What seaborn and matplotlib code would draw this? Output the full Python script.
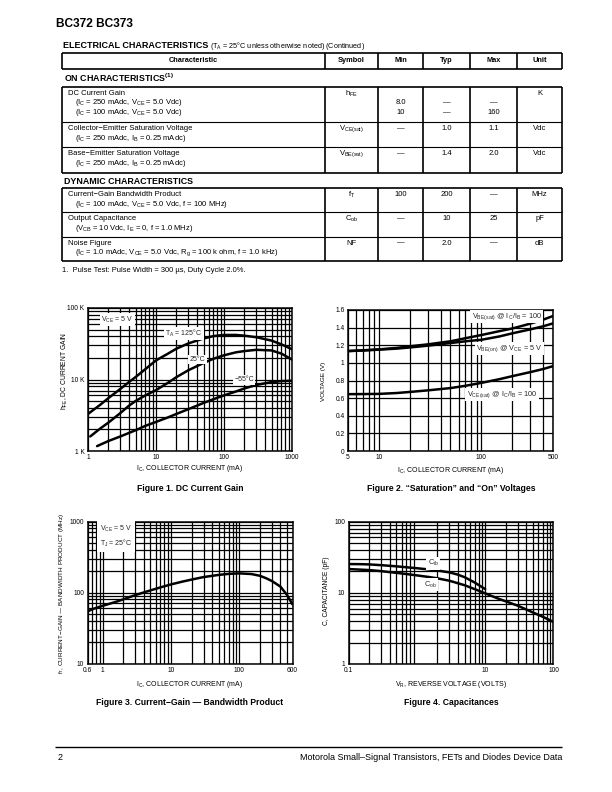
import matplotlib
matplotlib.use("Agg")
import numpy as np
import pandas as pd
import matplotlib.pyplot as plt
import seaborn as sns
from matplotlib.ticker import FixedLocator, NullFormatter, LogLocator, NullLocator

# ---------------- data: Figure 1 (DC current gain, in K) ----------------
f1_ic_125 = [1, 1.5, 2, 3, 4, 5, 7, 10, 15, 20, 30, 50, 70, 100, 150, 200, 300, 500, 700, 1000]
f1_hfe_125 = [3.3, 4.4, 5.5, 7.4, 9.2, 10.8, 14, 18.5, 23, 27, 32, 37.5, 40.5, 42, 42, 41, 39, 35, 31, 26.5]
f1_ic_25 = [1.08, 1.5, 2, 3, 4, 5, 7, 10, 15, 20, 30, 50, 70, 100, 150, 200, 300, 500, 700, 1000]
f1_hfe_25 = [1.6, 2.05, 2.5, 3.4, 4.3, 5.0, 6.0, 7.1, 9.0, 10.8, 13.5, 17, 19.5, 21.8, 24, 25, 26, 25.5, 23, 19]
f1_ic_m55 = [1.36, 2, 3, 5, 7, 10, 15, 20, 30, 50, 70, 100, 150, 200, 300, 500, 700, 1000]
f1_hfe_m55 = [1.17, 1.38, 1.6, 1.95, 2.25, 2.55, 2.95, 3.3, 3.85, 4.7, 5.3, 6.0, 6.8, 7.5, 8.4, 9.2, 9.5, 9.6]
f1_xticks = [1, 10, 100, 1000]
f1_xlabels = ["1", "10", "100", "1000"]
f1_yticks = [1, 10, 100]
f1_ylabels = ["1 K", "10 K", "100 K"]

# ---------------- data: Figure 2 (voltages) ----------------
f2_ic = [5, 7, 10, 15, 20, 30, 50, 70, 100, 150, 200, 300, 400, 500]
f2_vbe_sat = [1.134, 1.143, 1.153, 1.17, 1.188, 1.21, 1.245, 1.28, 1.316, 1.36, 1.39, 1.445, 1.49, 1.532]
f2_vbe_on = [1.134, 1.14, 1.15, 1.162, 1.175, 1.195, 1.225, 1.245, 1.262, 1.3, 1.335, 1.38, 1.415, 1.448]
f2_vce_sat = [0.645, 0.646, 0.648, 0.658, 0.67, 0.688, 0.714, 0.74, 0.773, 0.815, 0.849, 0.895, 0.93, 0.963]
f2_xticks = [5, 10, 100, 500]
f2_xlabels = ["5", "10", "100", "500"]
f2_yticks = [0, 0.2, 0.4, 0.6, 0.8, 1.0, 1.2, 1.4, 1.6]
f2_ylabels = ["0", "0.2", "0.4", "0.6", "0.8", "1", "1.2", "1.4", "1.6"]

# ---------------- data: Figure 3 (fT) ----------------
f3_ic = [0.6, 0.7, 1, 1.5, 2, 3, 5, 7, 10, 15, 20, 30, 50, 70, 100, 150, 200, 250, 300, 400, 500, 600]
f3_ft = [54, 58, 65, 73, 80, 92, 107, 118, 130, 143, 152, 165, 177, 183, 186, 182, 172, 158, 145, 121, 92, 68]
f3_xticks = [0.6, 1, 10, 100, 600]
f3_xlabels = ["0.6", "1", "10", "100", "600"]
f3_yticks = [10, 100, 1000]
f3_ylabels = ["10", "100", "1000"]

# ---------------- data: Figure 4 (capacitances) ----------------
f4_v_ib = [0.1, 0.15, 0.2, 0.3, 0.5, 0.7, 1, 1.5, 2, 3, 4, 5, 7, 10]
f4_cib = [25.4, 25.3, 25.1, 24.5, 23.6, 22.9, 22.2, 21.3, 20.6, 19.4, 18.0, 16.6, 14.0, 11.3]
f4_v_ob = [0.1, 0.15, 0.2, 0.3, 0.5, 0.7, 1, 1.5, 2, 3, 5, 7, 10, 15, 20, 30, 50, 70, 100]
f4_cob = [21.6, 21.2, 20.9, 20.2, 19.1, 18.4, 17.6, 16.7, 16, 14.8, 12.8, 11.3, 9.85, 8.4, 7.6, 6.6, 5.3, 4.6, 3.9]
f4_xticks = [0.1, 10, 100]
f4_xlabels = ["0.1", "10", "100"]
f4_yticks = [1, 10, 100]
f4_ylabels = ["1", "10", "100"]

# ---------------- data: table ----------------
tbl_cols = ["Characteristic", "Symbol", "Min", "Typ", "Max", "Unit"]
on_char = [["DC Current Gain", "(I$_C$ = 250 mAdc, V$_{CE}$ = 5.0 Vdc)", "(I$_C$ = 100 mAdc, V$_{CE}$ = 5.0 Vdc)"],
           ["Collector−Emitter Saturation Voltage", "(I$_C$ = 250 mAdc, I$_B$ = 0.25 mAdc)"],
           ["Base−Emitter Saturation Voltage", "(I$_C$ = 250 mAdc, I$_B$ = 0.25 mAdc)"]]
on_sym = ["h$_{FE}$", "V$_{CE(sat)}$", "V$_{BE(sat)}$"]
on_min = [["", "8.0", "10"], ["—"], ["—"]]
on_typ = [["", "—", "—"], ["1.0"], ["1.4"]]
on_max = [["", "—", "160"], ["1.1"], ["2.0"]]
on_unit = ["K", "Vdc", "Vdc"]
dyn_char = [["Current−Gain Bandwidth Product", "(I$_C$ = 100 mAdc, V$_{CE}$ = 5.0 Vdc, f = 100 MHz)"],
            ["Output Capacitance", "(V$_{CB}$ = 10 Vdc, I$_E$ = 0, f = 1.0 MHz)"],
            ["Noise Figure", "(I$_C$ = 1.0 mAdc, V$_{CE}$ = 5.0 Vdc, R$_g$ = 100 k ohm, f = 1.0 kHz)"]]
dyn_sym = ["f$_T$", "C$_{ob}$", "NF"]
dyn_min = [["100"], ["—"], ["—"]]
dyn_typ = [["200"], ["10"], ["2.0"]]
dyn_max = [["—"], ["25"], ["—"]]
dyn_unit = ["MHz", "pF", "dB"]

# ---------------- setup ----------------
sns.set_theme(style="white")
plt.rcParams['font.family'] = ['Liberation Sans', 'DejaVu Sans']
plt.rcParams['mathtext.default'] = 'regular'
plt.rcParams['axes.unicode_minus'] = True

W, H = 612, 792
fig = plt.figure(figsize=(W / 100, H / 100), dpi=100)
fig.patch.set_facecolor('white')

axp = fig.add_axes([0, 0, 1, 1])
axp.set_xlim(0, W)
axp.set_ylim(H, 0)
axp.axis('off')


def T(x, y, s, size=4.5, **kw):
    kw.setdefault('va', 'center')
    kw.setdefault('ha', 'left')
    axp.text(x, y, s, fontsize=size, color='black', **kw)


BODY = 5.5

# header
T(56, 24, "BC372 BC373", size=8.6, weight='heavy')
T(63, 45, "ELECTRICAL CHARACTERISTICS", size=6.5, weight='bold')
T(210, 45.6, "(T$_A$ = 25°C unless otherwise noted) (Continued)", size=5.2)

# table
col_edges = [62, 325, 378, 423, 470, 517, 562]
col_cent = [(col_edges[i] + col_edges[i + 1]) / 2 for i in range(6)]
LW_O, LW_I = 1.2, 0.8


def box(top, bottom, seps):
    axp.hlines([top, bottom], col_edges[0], col_edges[-1], color='black', lw=LW_O)
    axp.vlines(col_edges, top, bottom, color='black', lw=LW_O)
    if seps:
        axp.hlines(seps, col_edges[0], col_edges[-1], color='black', lw=LW_I)


box(52.7, 69, [])
for i, c in enumerate(tbl_cols):
    T(col_cent[i], 60.8, c, size=5.3, weight='bold', ha='center')

T(64, 77.5, "ON CHARACTERISTICS$^{(1)}$", size=6.4, weight='bold')
on_tops = [87, 122, 147.3]
box(87, 172.7, on_tops[1:])
T(64, 181, "DYNAMIC CHARACTERISTICS", size=6.4, weight='bold')
dyn_tops = [188.3, 212.3, 236.7]
box(188.3, 260.7, dyn_tops[1:])


def fill_rows(tops, chars, syms, mins, typs, maxs, units):
    for r, top in enumerate(tops):
        for k, line in enumerate(chars[r]):
            T(68 if k == 0 else 75, top + 6.5 + 9.5 * k, line, size=BODY)
        T(col_cent[1], top + 6.5, syms[r], size=BODY, ha='center')
        for ci, vals in zip([2, 3, 4], [mins[r], typs[r], maxs[r]]):
            for k, v in enumerate(vals):
                if v:
                    T(col_cent[ci], top + 6.5 + 9.5 * k, v, size=BODY, ha='center')
        T(col_cent[5], top + 6.5, units[r], size=BODY, ha='center')


fill_rows(on_tops, on_char, on_sym, on_min, on_typ, on_max, on_unit)
fill_rows(dyn_tops, dyn_char, dyn_sym, dyn_min, dyn_typ, dyn_max, dyn_unit)
T(62, 270, "1.  Pulse Test: Pulse Width = 300 µs, Duty Cycle 2.0%.", size=5.4)

# footer
axp.hlines(747, 55, 562, color='black', lw=1.0)
T(58, 757, "2", size=6.5)
T(562, 757, "Motorola Small–Signal Transistors, FETs and Diodes Device Data", size=6.5, ha='right')


# ---------------- chart axes ----------------
def make_ax(x0, y0, x1, y1):
    return fig.add_axes([x0 / W, 1 - y1 / H, (x1 - x0) / W, (y1 - y0) / H])


def style(ax, xlim, ylim, xt, xl, yt, yl, ylog=True):
    ax.set_xscale('log')
    if ylog:
        ax.set_yscale('log')
    ax.set_xlim(*xlim)
    ax.set_ylim(*ylim)
    ax.xaxis.set_major_locator(FixedLocator(xt))
    ax.set_xticklabels(xl)
    ax.xaxis.set_minor_locator(LogLocator(base=10, subs=np.arange(2, 10) * 1.0, numticks=100))
    ax.xaxis.set_minor_formatter(NullFormatter())
    ax.yaxis.set_major_locator(FixedLocator(yt))
    ax.set_yticklabels(yl)
    if ylog:
        ax.yaxis.set_minor_locator(LogLocator(base=10, subs=np.arange(2, 10) * 1.0, numticks=100))
        ax.yaxis.set_minor_formatter(NullFormatter())
    else:
        ax.yaxis.set_minor_locator(NullLocator())
    ax.grid(True, which='both', color='black', lw=0.9)
    ax.set_axisbelow(True)
    ax.tick_params(which='both', length=0, labelsize=4.8, pad=2.5, colors='black')
    for s in ax.spines.values():
        s.set_color('black')
        s.set_linewidth(1.1)
    ax.set_xlabel('')
    ax.set_ylabel('')
    ax.set_facecolor('white')


def curve(ax, xs, ys):
    df = pd.DataFrame({'x': xs, 'y': ys})
    sns.lineplot(data=df, x='x', y='y', ax=ax, color='black', lw=1.8,
                 estimator=None, sort=False, legend=False)


BOX = dict(facecolor='white', edgecolor='none', pad=1.0)
LBL = 5.0
AXL = 5.0
TITLE = 6.2

# Figure 1
ax1 = make_ax(88, 308, 292, 451)
curve(ax1, f1_ic_125, f1_hfe_125)
curve(ax1, f1_ic_25, f1_hfe_25)
curve(ax1, f1_ic_m55, f1_hfe_m55)
style(ax1, (1, 1000), (1, 100), f1_xticks, f1_xlabels, f1_yticks, f1_ylabels)
ax1.text(2.69, 68.9, "V$_{CE}$ = 5 V", fontsize=LBL, ha='center', va='center', bbox=BOX)
ax1.text(25.5, 44, "T$_A$ = 125°C", fontsize=LBL, ha='center', va='center', bbox=BOX)
ax1.text(41, 19.1, "25°C", fontsize=LBL, ha='center', va='center', bbox=BOX)
ax1.text(197, 9.9, "−55°C", fontsize=LBL, ha='center', va='center', bbox=BOX)
T(65, 371, "h$_{FE}$, DC CURRENT GAIN", size=4.9, rotation=90, ha='center')
T(190, 468, "I$_C$, COLLECTOR CURRENT (mA)", size=AXL, ha='center')
T(190, 488.5, "Figure 1. DC Current Gain", size=TITLE, weight='bold', ha='center')

# Figure 2
ax2 = make_ax(348, 310, 553, 451)
curve(ax2, f2_ic, f2_vbe_sat)
curve(ax2, f2_ic, f2_vbe_on)
curve(ax2, f2_ic, f2_vce_sat)
style(ax2, (5, 500), (0, 1.6), f2_xticks, f2_xlabels, f2_yticks, f2_ylabels, ylog=False)
ax2.text(177, 1.524, "V$_{BE(sat)}$ @ I$_C$/I$_B$ = 100", fontsize=5.3, ha='center', va='center', bbox=BOX)
ax2.text(188, 1.164, "V$_{BE(on)}$ @ V$_{CE}$ = 5 V", fontsize=5.3, ha='center', va='center', bbox=BOX)
ax2.text(159, 0.641, "V$_{CE(sat)}$ @ I$_C$/I$_B$ = 100", fontsize=5.3, ha='center', va='center', bbox=BOX)
T(324, 381, "VOLTAGE (V)", size=4.6, rotation=90, ha='center')
T(451, 470, "I$_C$, COLLECTOR CURRENT (mA)", size=AXL, ha='center')
T(451, 488.5, "Figure 2. “Saturation” and “On” Voltages", size=TITLE, weight='bold', ha='center')

# Figure 3
ax3 = make_ax(87.5, 521.5, 292.5, 663.5)
curve(ax3, f3_ic, f3_ft)
style(ax3, (0.6, 600), (10, 1000), f3_xticks, f3_xlabels, f3_yticks, f3_ylabels)
ax3.text(0.9, 620, "V$_{CE}$ = 5 V\nT$_J$ = 25°C", fontsize=LBL, ha='left', va='center',
         linespacing=1.45, bbox=dict(facecolor='white', edgecolor='none', pad=2.0))
T(62, 593, "f$_T$, CURRENT−GAIN — BANDWIDTH PRODUCT (MHz)", size=4.6, rotation=90, ha='center')
T(190, 684, "I$_C$, COLLECTOR CURRENT (mA)", size=AXL, ha='center')
T(190, 702.5, "Figure 3. Current−Gain — Bandwidth Product", size=TITLE, weight='bold', ha='center')

# Figure 4
ax4 = make_ax(348.5, 521.7, 553.5, 664)
curve(ax4, f4_v_ib, f4_cib)
curve(ax4, f4_v_ob, f4_cob)
style(ax4, (0.1, 100), (1, 100), f4_xticks, f4_xlabels, f4_yticks, f4_ylabels)
ax4.text(1.75, 26, "C$_{ib}$", fontsize=5.3, ha='center', va='center', bbox=BOX)
ax4.text(1.57, 12.9, "C$_{ob}$", fontsize=5.3, ha='center', va='center', bbox=BOX)
T(326, 591, "C, CAPACITANCE (pF)", size=4.8, rotation=90, ha='center')
T(451, 684, "V$_R$, REVERSE VOLTAGE (VOLTS)", size=AXL, ha='center')
T(451, 702.5, "Figure 4. Capacitances", size=TITLE, weight='bold', ha='center')

fig.savefig("out.png", dpi=100, facecolor='white')
